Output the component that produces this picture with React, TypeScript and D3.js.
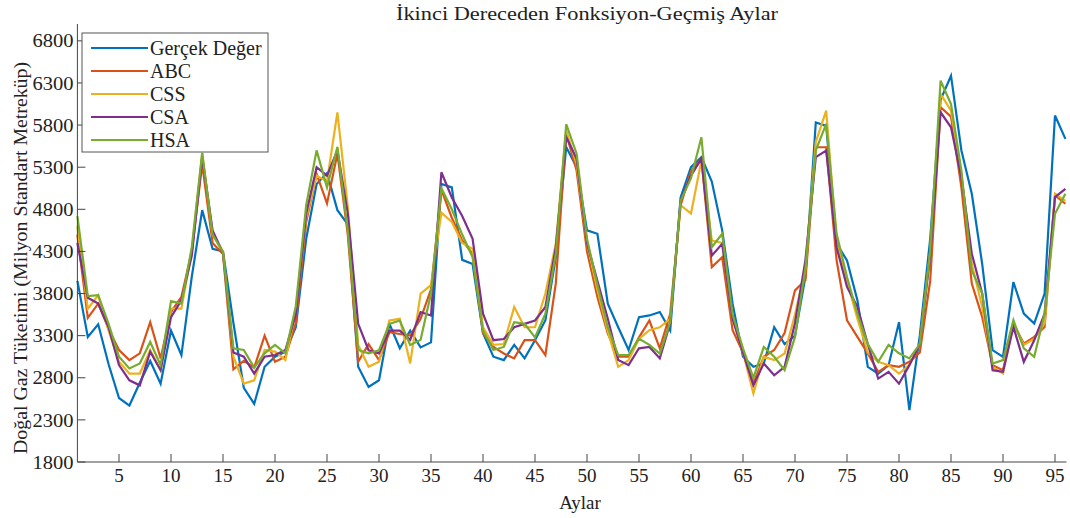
import React from "react";
import * as d3 from "d3";

const months = d3.range(1, 97);

const gercek = [3950,3285,3435,2960,2560,2470,2740,3000,2730,3360,3070,4000,4790,4330,4300,3450,2680,2490,2930,3050,3110,3400,4450,5100,5230,4790,4620,2930,2690,2770,3440,3150,3360,3160,3220,5100,5060,4200,4150,3330,3050,3010,3190,3030,3246,3483,4230,5540,5300,4550,4510,3680,3400,3130,3520,3540,3580,3360,4940,5300,5420,5130,4550,3680,3050,2930,2970,3400,3200,3300,4000,5830,5790,4392,4194,3720,2930,2850,2950,3460,2416,3300,4450,6100,6386,5498,4984,4150,3127,3048,3937,3562,3443,3800,5913,5636];
const abc = [4500,3510,3680,3380,3130,3010,3090,3460,3030,3580,3760,4300,5340,4400,4270,2900,3000,2920,3300,2990,3050,3450,4650,5220,4870,5460,4500,2990,3200,3010,3340,3320,3300,3500,3850,5030,4700,4430,4270,3330,3166,3088,3030,3246,3246,3070,3920,5700,5260,4300,3760,3325,3050,3050,3280,3480,3150,3560,4850,5250,5400,4114,4230,3364,3100,2730,3050,3130,3330,3838,3958,5537,5537,4194,3483,3285,3088,2870,2950,2930,2990,3100,3950,6011,5900,5060,3918,3522,2950,2890,3443,3206,3285,3404,4965,4866];
const css = [4600,3620,3780,3360,2990,2850,2850,3130,2890,3620,3620,4300,5460,4500,4300,3050,2730,2770,3130,3110,3010,3600,4700,5200,5130,5950,4830,3190,2930,2990,3480,3500,2970,3800,3900,4760,4650,4400,4330,3400,3190,3200,3640,3400,3400,3800,4390,5735,5340,4400,3850,3350,2930,3010,3260,3364,3400,3500,4850,4750,5380,4430,4400,3500,3100,2613,3050,3010,3088,3550,4100,5600,5972,4400,3950,3500,3100,2990,2950,2850,2950,3200,4300,6169,5970,5220,4150,3640,2930,2850,3443,3190,3260,3450,4984,4900];
const csa = [4400,3750,3680,3400,2950,2770,2710,3110,2890,3520,3720,4250,5420,4550,4280,3100,3050,2850,3050,3070,3130,3550,4750,5300,5200,5500,4750,3440,3127,3090,3360,3360,3250,3580,3540,5240,4940,4720,4450,3560,3246,3260,3400,3440,3480,3640,4350,5660,5400,4400,3950,3500,3010,2950,3150,3166,3030,3450,4900,5200,5400,4250,4390,3500,3100,2710,2970,2830,2930,3450,4194,5419,5498,4350,3878,3641,3200,2790,2870,2730,2950,3200,4250,5952,5774,5180,4273,3800,2890,2870,3404,2989,3246,3562,4945,5043];
const hsa = [4720,3770,3780,3440,3050,2910,2970,3225,2950,3710,3680,4350,5470,4500,4290,3150,3130,2920,3090,3190,3090,3650,4850,5500,5060,5540,4550,3130,3090,3127,3440,3480,3190,3250,3800,5050,4800,4500,4230,3360,3130,3166,3460,3440,3280,3560,4270,5810,5460,4450,3900,3400,3070,3070,3264,3190,3088,3460,4900,5170,5655,4350,4510,3550,3150,2800,3166,3050,2890,3285,4100,5500,5814,4510,3997,3560,3200,2990,3190,3090,3030,3200,4300,6327,6050,5260,4075,3800,2970,3009,3483,3150,3048,3560,4747,4984];

const seriesNames = ["Gerçek Değer", "ABC", "CSS", "CSA", "HSA"];
const seriesData = [gercek, abc, css, csa, hsa];
const seriesColors = ["#0072BD", "#D95319", "#EDB120", "#7E2F8E", "#77AC30"];

const yTicks = [1800, 2300, 2800, 3300, 3800, 4300, 4800, 5300, 5800, 6300, 6800];
const xTicks = d3.range(5, 96, 5);

const W = 1070, H = 518;
const L = 77.4, R = 1065.4, T = 24, B = 462;

export default function App() {
  const x = d3.scaleLinear().domain([1, 96]).range([L, R]);
  const y = d3.scaleLinear().domain([1800, 7000]).range([B, T]);
  const line = d3.line<number>().x((_, i) => x(months[i])).y(d => y(d));
  const font = "'Liberation Serif', 'Times New Roman', serif";
  return (
    <svg width={W} height={H} style={{ position: "absolute", left: 0, top: 0, background: "#fff" }} fontFamily={font}>
      <rect x={0} y={0} width={W} height={H} fill="#fff" />
      <text x={587} y={20} textAnchor="middle" fontSize={19.5} fill="#222" textLength={382} lengthAdjust="spacingAndGlyphs">İkinci Dereceden Fonksiyon-Geçmiş Aylar</text>
      {seriesData.map((s, k) => (
        <path key={k} d={line(s) || ""} fill="none" stroke={seriesColors[k]} strokeWidth={2.2} strokeLinejoin="miter" />
      ))}
      <line x1={L} x2={L} y1={T} y2={B} stroke="#444" strokeWidth={1} />
      <line x1={L} x2={R + 1} y1={B} y2={B} stroke="#444" strokeWidth={1} />
      {yTicks.map(t => (
        <g key={t}>
          <line x1={L} x2={L + 8} y1={y(t)} y2={y(t)} stroke="#444" />
          <text x={L - 4} y={y(t)} dy="0.35em" textAnchor="end" fontSize={19} fill="#222" textLength={41} lengthAdjust="spacingAndGlyphs">{t}</text>
        </g>
      ))}
      {xTicks.map(t => (
        <g key={t}>
          <line x1={x(t)} x2={x(t)} y1={B} y2={B - 8} stroke="#444" />
          <text x={x(t)} y={B + 20} textAnchor="middle" fontSize={19} fill="#222">{t}</text>
        </g>
      ))}
      <text x={580} y={509} textAnchor="middle" fontSize={19} fill="#222">Aylar</text>
      <text transform={`translate(27,258) rotate(-90)`} textAnchor="middle" fontSize={19} fill="#222" textLength={392} lengthAdjust="spacingAndGlyphs">Doğal Gaz Tüketimi (Milyon Standart Metreküp)</text>
      <g>
        <rect x={82} y={33} width={186} height={119} fill="#fff" stroke="#555" strokeWidth={1} />
        {seriesNames.map((n, k) => (
          <g key={n}>
            <line x1={91} x2={148} y1={48 + k * 23} y2={48 + k * 23} stroke={seriesColors[k]} strokeWidth={2.2} />
            <text x={150} y={48 + k * 23} dy="0.35em" fontSize={20} fill="#222">{n}</text>
          </g>
        ))}
      </g>
    </svg>
  );
}
